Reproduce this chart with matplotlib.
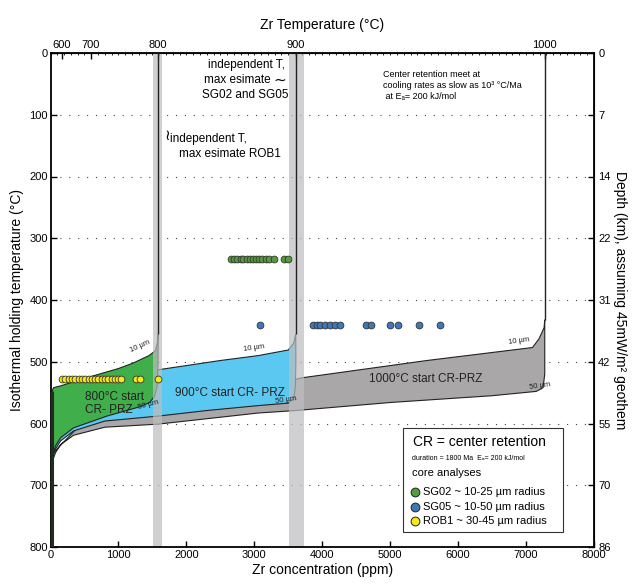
"""Zr concentration vs isothermal holding temperature, center retention zones"""

import matplotlib.pyplot as plt
import numpy as np
from matplotlib.patches import Rectangle

plt.rcParams['font.family'] = ['Liberation Sans', 'DejaVu Sans']

## Zr temperature (top axis) and depth (right axis)
zr_temp_ppm = [165, 590, 1585, 3610, 7275]
zr_temp_labels = ['600', '700', '800', '900', '1000']
hold_T_ticks = [0, 100, 200, 300, 400, 500, 600, 700, 800]
depth_labels = ['0', '7', '14', '22', '31', '42', '55', '70', '86']

## uncertainty bands around 800 and 900 C
band_lo = [1510, 3510]
band_hi = [1640, 3730]

## start lines (vertical part above each zone)
start_ppm = [1585, 3610, 7275]
start_end_T = [455, 455, 432]

## 800 C start CR-PRZ (green), 10 um edge then 50 um edge
g_top_ppm = [20, 45, 150, 500, 1000, 1220, 1450, 1545, 1575, 1585]
g_top_T = [548, 542, 539, 527, 511, 502, 490, 482, 468, 455]
g_bot_ppm = [1585, 1583, 1570, 1530, 1460, 1310, 830, 340, 150, 75, 45, 20]
g_bot_T = [455, 500, 540, 556, 566, 573, 588, 607, 623, 636, 647, 655]

## 900 C start CR-PRZ (blue)
b_top_ppm = [20, 300, 800, 1585, 2500, 3060, 3500, 3580, 3610]
b_top_T = [640, 590, 560, 513, 498, 490, 481, 470, 455]
b_bot_ppm = [3610, 3612, 3605, 3580, 3500, 3060, 2300, 1585, 800, 340, 150, 75, 20]
b_bot_T = [455, 500, 540, 560, 567, 571, 579, 588, 596, 612, 628, 641, 658]

## 1000 C start CR-PRZ (gray)
k_top_ppm = [20, 500, 1585, 3000, 3700, 5540, 7094, 7190, 7265, 7275]
k_top_T = [650, 595, 560, 545, 526, 498, 477, 463, 445, 432]
k_bot_ppm = [7275, 7275, 7250, 7150, 6500, 5000, 3610, 3060, 1585, 800, 340, 150, 75, 20]
k_bot_T = [432, 520, 542, 548, 555, 566, 579, 583, 601, 606, 619, 634, 647, 663]

## core analyses
sg02_ppm = [2660, 2700, 2750, 2800, 2840, 2890, 2940, 2980, 3030, 3070, 3120,
            3170, 3220, 3290, 3440, 3490]
sg02_T = [333] * len(sg02_ppm)
sg05_ppm = [3080, 3870, 3920, 3965, 4040, 4110, 4185, 4260, 4650, 4720, 4990,
            5110, 5425, 5740]
sg05_T = [440] * len(sg05_ppm)
rob1_ppm = [170, 220, 270, 315, 365, 415, 460, 510, 560, 610, 655, 705, 755,
            805, 850, 900, 950, 1000, 1045, 1265, 1315, 1580]
rob1_T = [528] * len(rob1_ppm)

c_green = '#40ae4a'
c_blue = '#5ac8f0'
c_gray = '#a9a7a8'
c_sg02 = '#559c3c'
c_sg05 = '#3f78b6'
c_rob1 = '#f6ea16'

fig = plt.figure(figsize=(6.44, 5.87), dpi=100)
ax = fig.add_axes([50.5 / 644, 40 / 587, 543.5 / 644, 494 / 587])
ax.set_xlim(0, 8000)
ax.set_ylim(800, 0)

## zones, back to front
ax.fill(k_top_ppm + k_bot_ppm, k_top_T + k_bot_T, fc=c_gray, ec='#222222',
        lw=0.8, zorder=2)
ax.fill(b_top_ppm + b_bot_ppm, b_top_T + b_bot_T, fc=c_blue, ec='#222222',
        lw=0.8, zorder=2)
ax.fill(g_top_ppm + g_bot_ppm, g_top_T + g_bot_T, fc=c_green, ec='#222222',
        lw=0.8, zorder=2)
ax.vlines(start_ppm, 0, start_end_T, color='#222222', lw=1.0, zorder=3)
ax.vlines(g_top_ppm[0], g_top_T[0], 800, color='#1e2e1e', lw=2.2, zorder=3)
for lo, hi in zip(band_lo, band_hi):
    ax.axvspan(lo, hi, color='#bdbdbf', alpha=0.7, lw=0, zorder=2.5)

## points
kw = dict(s=24, edgecolors='#333333', linewidths=0.6, zorder=4)
ax.scatter(sg02_ppm, sg02_T, c=c_sg02, **kw)
ax.scatter(sg05_ppm, sg05_T, c=c_sg05, **kw)
ax.scatter(rob1_ppm, rob1_T, c=c_rob1, **kw)

## zone labels
ax.text(510, 557, '800°C start', fontsize=8.5, va='center', color='#222222', zorder=5)
ax.text(510, 578, 'CR- PRZ', fontsize=8.5, va='center', color='#222222', zorder=5)
ax.text(1835, 550, '900°C start CR- PRZ', fontsize=8.5, va='center',
        color='#222222', zorder=5)
ax.text(5520, 528, '1000°C start CR-PRZ', fontsize=8.5, ha='center', va='center',
        color='#222222', zorder=5)
small = dict(fontsize=5.5, color='#222222', zorder=5, ha='center', va='bottom')
ax.text(1320, 488, '10 µm', rotation=25, **small)
ax.text(1440, 580, '50 µm', rotation=15, **small)
ax.text(3000, 486, '10 µm', rotation=8, **small)
ax.text(3470, 570, '50 µm', rotation=8, **small)
ax.text(6900, 474, '10 µm', rotation=8, **small)
ax.text(7200, 548, '50 µm', rotation=8, **small)

## annotations
ax.text(3453, 19, 'independent T,', fontsize=8.5, ha='right', va='center')
ax.text(3243, 44, 'max esimate', fontsize=8.5, ha='right', va='center')
ax.text(3370, 44, '∼', fontsize=11, ha='center', va='center')
ax.text(3498, 68, 'SG02 and SG05', fontsize=8.5, ha='right', va='center')
ax.text(1720, 135, '≀', fontsize=11, ha='center', va='center')
ax.text(1760, 140, 'independent T,', fontsize=8.5, va='center')
ax.text(1893, 164, 'max esimate ROB1', fontsize=8.5, va='center')
ax.text(4900, 28, 'Center retention meet at\ncooling rates as slow as 10³ °C/Ma\n'
        ' at Eₐ= 200 kJ/mol', fontsize=6.5, va='top', linespacing=1.25)

## axes
ax.set_xticks(range(0, 8001, 1000))
ax.set_yticks(hold_T_ticks)
ax.tick_params(direction='in', labelsize=8, length=4, width=1, pad=2)
ax.yaxis.grid(True, linestyle=(0, (1, 7)), color='#444444', lw=0.8)
for s in ax.spines.values():
    s.set_linewidth(1.3)
ax.set_xlabel('Zr concentration (ppm)', fontsize=10, labelpad=2)
ax.set_ylabel('Isothermal holding temperature (°C)', fontsize=10, labelpad=4)

top = ax.secondary_xaxis('top')
top.set_xticks(zr_temp_ppm, labels=zr_temp_labels)
top.set_xticks(np.arange(0, 8001, 100), minor=True)
top.tick_params(direction='in', labelsize=8, length=4, width=1, pad=2)
top.tick_params(which='minor', direction='in', length=1.5, width=0.6)
top.set_xlabel('Zr Temperature (°C)', fontsize=10, labelpad=8)

right = ax.secondary_yaxis('right')
right.set_yticks(hold_T_ticks, labels=depth_labels)
right.tick_params(direction='in', labelsize=8, length=4, width=1, pad=3)
right.set_ylabel('Depth (km), assuming 45mW/m² geothem', fontsize=10,
                 rotation=270, labelpad=12)

## legend box
ax.add_patch(Rectangle((0.648, 0.030), 0.295, 0.211, transform=ax.transAxes,
                       fc='white', ec='#333333', lw=0.8, zorder=5))
ax.text(0.667, 0.213, 'CR = center retention', transform=ax.transAxes,
        fontsize=10, va='center', zorder=6)
ax.text(0.665, 0.180, 'duration = 1800 Ma  Eₐ= 200 kJ/mol', transform=ax.transAxes,
        fontsize=5, va='center', zorder=6)
ax.text(0.665, 0.150, 'core analyses', transform=ax.transAxes, fontsize=8,
        va='center', zorder=6)
leg_names = ['SG02 ~ 10-25 µm radius', 'SG05 ~ 10-50 µm radius',
             'ROB1 ~ 30-45 µm radius']
leg_colors = [c_sg02, c_sg05, c_rob1]
leg_y = [0.111, 0.081, 0.053]
for name, col, yy in zip(leg_names, leg_colors, leg_y):
    ax.scatter([0.671], [yy], transform=ax.transAxes, s=40, c=col,
               edgecolors='#222222', linewidths=0.7, zorder=7, clip_on=False)
    ax.text(0.686, yy, name, transform=ax.transAxes, fontsize=8, va='center',
            zorder=7)

fig.savefig('out.png', dpi=100, facecolor='white')
